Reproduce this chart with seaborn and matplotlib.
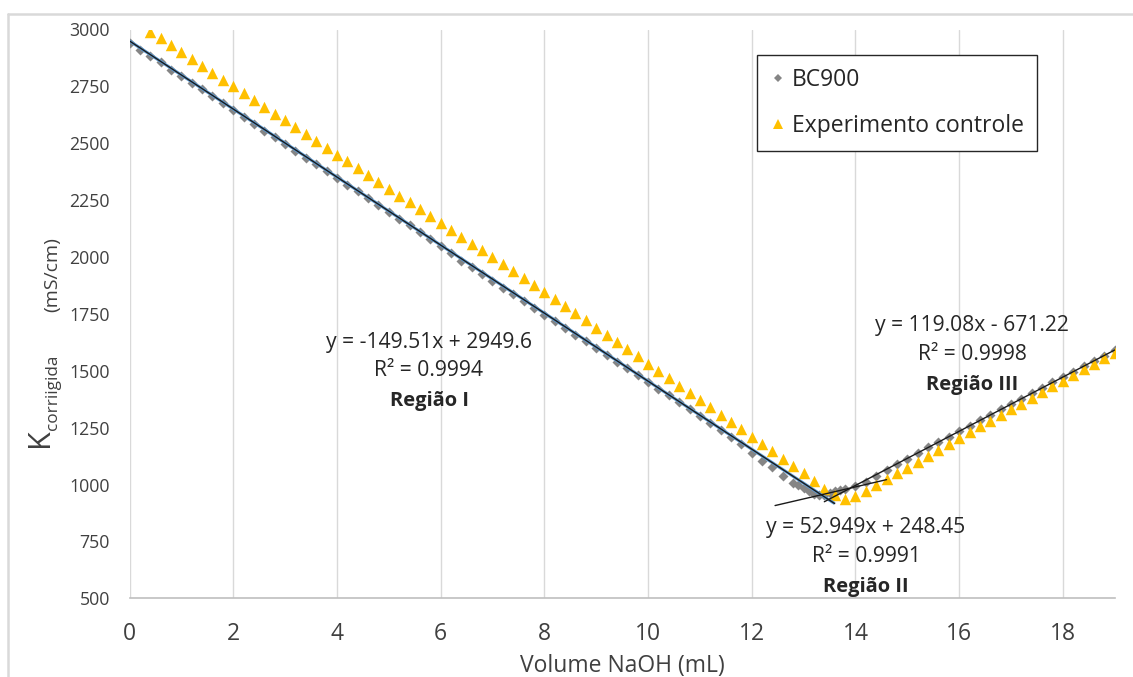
import matplotlib
matplotlib.use("Agg")
import matplotlib.pyplot as plt
from matplotlib.lines import Line2D
import numpy as np
import pandas as pd
import seaborn as sns

# --- data -------------------------------------------------------------------
bc900_volume = [
    0.0, 0.2, 0.4, 0.6, 0.8, 1.0, 1.2, 1.4, 1.6, 1.8,
    2.0, 2.2, 2.4, 2.6, 2.8, 3.0, 3.2, 3.4, 3.6, 3.8,
    4.0, 4.2, 4.4, 4.6, 4.8, 5.0, 5.2, 5.4, 5.6, 5.8,
    6.0, 6.2, 6.4, 6.6, 6.8, 7.0, 7.2, 7.4, 7.6, 7.8,
    8.0, 8.2, 8.4, 8.6, 8.8, 9.0, 9.2, 9.4, 9.6, 9.8,
    10.0, 10.2, 10.4, 10.6, 10.8, 11.0, 11.2, 11.4, 11.6, 11.8,
    12.0, 12.2, 12.4, 12.6, 12.8, 12.9, 13.0, 13.1, 13.2, 13.3,
    13.4, 13.5, 13.6, 13.7, 13.8, 14.0, 14.2, 14.4, 14.6, 14.8,
    15.0, 15.2, 15.4, 15.6, 15.8, 16.0, 16.2, 16.4, 16.6, 16.8,
    17.0, 17.2, 17.4, 17.6, 17.8, 18.0, 18.2, 18.4, 18.6, 18.8, 19.0,
]
bc900_k = [
    2940, 2912, 2884, 2857, 2824, 2794, 2766, 2738, 2706, 2676,
    2646, 2616, 2586, 2556, 2526, 2497, 2467, 2437, 2408, 2377,
    2347, 2318, 2288, 2258, 2228, 2199, 2169, 2140, 2110, 2079,
    2049, 2018, 1984, 1954, 1925, 1895, 1866, 1836, 1806, 1777,
    1746, 1717, 1688, 1659, 1629, 1599, 1570, 1540, 1511, 1481,
    1452, 1422, 1392, 1362, 1332, 1302, 1272, 1241, 1210, 1176,
    1140, 1105, 1075, 1039, 1008, 996, 984, 970, 960, 953,
    956, 962, 970, 976, 982, 994, 1012, 1036, 1064, 1090,
    1114, 1139, 1163, 1187, 1211, 1236, 1259, 1283, 1306, 1330,
    1354, 1377, 1401, 1425, 1449, 1472, 1496, 1519, 1543, 1567, 1590,
]

controle_volume = [
    0.4, 0.6, 0.8, 1.0, 1.2, 1.4, 1.6, 1.8,
    2.0, 2.2, 2.4, 2.6, 2.8, 3.0, 3.2, 3.4, 3.6, 3.8,
    4.0, 4.2, 4.4, 4.6, 4.8, 5.0, 5.2, 5.4, 5.6, 5.8,
    6.0, 6.2, 6.4, 6.6, 6.8, 7.0, 7.2, 7.4, 7.6, 7.8,
    8.0, 8.2, 8.4, 8.6, 8.8, 9.0, 9.2, 9.4, 9.6, 9.8,
    10.0, 10.2, 10.4, 10.6, 10.8, 11.0, 11.2, 11.4, 11.6, 11.8,
    12.0, 12.2, 12.4, 12.6, 12.8, 13.0, 13.2, 13.4, 13.6, 13.8,
    14.0, 14.2, 14.4, 14.6, 14.8, 15.0, 15.2, 15.4, 15.6, 15.8,
    16.0, 16.2, 16.4, 16.6, 16.8, 17.0, 17.2, 17.4, 17.6, 17.8,
    18.0, 18.2, 18.4, 18.6, 18.8, 19.0,
]
controle_k = [
    2990, 2961, 2930, 2901, 2871, 2840, 2811, 2780,
    2751, 2721, 2690, 2661, 2630, 2601, 2570, 2541, 2510, 2481,
    2450, 2421, 2390, 2361, 2330, 2301, 2270, 2241, 2210, 2180,
    2150, 2120, 2090, 2059, 2029, 1999, 1969, 1939, 1909, 1879,
    1848, 1817, 1785, 1753, 1722, 1690, 1658, 1627, 1595, 1563,
    1531, 1499, 1467, 1435, 1403, 1371, 1339, 1307, 1275, 1242,
    1210, 1177, 1146, 1113, 1080, 1049, 1017, 982, 953, 937,
    950, 973, 997, 1026, 1049, 1071, 1098, 1125, 1152, 1179,
    1206, 1231, 1256, 1281, 1306, 1331, 1356, 1381, 1406, 1431,
    1456, 1481, 1506, 1531, 1556, 1580,
]

# linear fits for the three titration regions: (slope, intercept, R², x range)
fit_labels = ["Região I", "Região II", "Região III"]
fit_slopes = [-149.51, 52.949, 119.08]
fit_intercepts = [2949.6, 248.45, -671.22]
fit_r2 = ["0.9994", "0.9991", "0.9998"]
fit_ranges = [(0.0, 13.6), (12.45, 14.6), (13.4, 19.0)]

x_ticks = [0, 2, 4, 6, 8, 10, 12, 14, 16, 18]
y_ticks = [500, 750, 1000, 1250, 1500, 1750, 2000, 2250, 2500, 2750, 3000]

# --- style ------------------------------------------------------------------
sns.set_theme(style="white")
plt.rcParams["font.family"] = ["Open Sans", "DejaVu Sans"]

GRAY = "#858585"
YELLOW = "#FFC000"
TEXT = "#262626"
TICK = "#404040"
GRID = "#D9D9D9"

W, H = 1133, 677
fig = plt.figure(figsize=(W / 100, H / 100), dpi=100)
fig.patch.set_facecolor("white")

def fx(px):
    return px / W

def fy(py):
    return 1 - py / H

ax = fig.add_axes([fx(129.5), fy(598.3), (1114.7 - 129.5) / W, (598.3 - 29.5) / H])

df_bc = pd.DataFrame({"volume": bc900_volume, "k": bc900_k})
df_ct = pd.DataFrame({"volume": controle_volume, "k": controle_k})

sns.scatterplot(data=df_bc, x="volume", y="k", marker="D", color=GRAY, s=26,
                linewidth=0, ax=ax, zorder=3, legend=False)
sns.scatterplot(data=df_ct, x="volume", y="k", marker="^", color=YELLOW, s=68,
                linewidth=0, ax=ax, zorder=4, legend=False)

# trendlines
for i, (m, b, (x0, x1)) in enumerate(zip(fit_slopes, fit_intercepts, fit_ranges)):
    xs = np.array([x0, x1])
    ys = m * xs + b
    if i == 0:
        ax.plot(xs, ys, color="#5B9BD5", lw=2.2, zorder=5, solid_capstyle="butt")
    ax.plot(xs, ys, color="#1a1a1a", lw=1.0, zorder=6)

ax.set_xlim(0, 19)
ax.set_ylim(500, 3000)
ax.set_xticks(x_ticks)
ax.set_yticks(y_ticks)
ax.set_xticklabels([str(v) for v in x_ticks])
ax.set_yticklabels([str(v) for v in y_ticks])
ax.tick_params(axis="x", length=0, pad=17, labelsize=16.5, labelcolor=TICK)
ax.tick_params(axis="y", length=0, pad=14, labelsize=12.8, labelcolor=TICK)

ax.grid(axis="x", color=GRID, lw=1.0, zorder=0)
ax.grid(axis="y", visible=False)
for side in ["top", "right", "left"]:
    ax.spines[side].set_visible(False)
ax.spines["bottom"].set_color("#BFBFBF")
ax.spines["bottom"].set_linewidth(1.2)

ax.set_xlabel("Volume NaOH (mL)", fontsize=16.5, color=TICK)
ax.xaxis.set_label_coords(0.5, -0.098)
ax.set_ylabel("")

# y-axis title built from pieces: K with subscript text
fig.text(fx(48), fy(447), "K", rotation=90, rotation_mode="anchor",
         ha="left", va="baseline", fontsize=22, color=TICK)
fig.text(fx(57), fy(430), "corriigida", rotation=90, rotation_mode="anchor",
         ha="left", va="baseline", fontsize=12.3, color=TICK)
fig.text(fx(57), fy(274.5), "(mS/cm)", rotation=90, rotation_mode="anchor",
         ha="center", va="baseline", fontsize=14, color=TICK)

# equation annotations
ann_centers = [(429, [348, 376.5, 406]), (866, [533, 562, 592]), (972, [331.5, 360, 390])]
for lbl, m, b, r2, (cx, rows) in zip(fit_labels, fit_slopes, fit_intercepts, fit_r2, ann_centers):
    sign = "+" if b >= 0 else "-"
    eq = f"y = {m:g}x {sign} {abs(b):g}"
    fig.text(fx(cx), fy(rows[0]), eq, ha="center", va="baseline", fontsize=15.2, color=TEXT)
    fig.text(fx(cx), fy(rows[1]), f"R² = {r2}", ha="center", va="baseline", fontsize=15.2, color=TEXT)
    fig.text(fx(cx), fy(rows[2]), lbl, ha="center", va="baseline", fontsize=14.5,
             fontweight="bold", color=TEXT)

# legend
handles = [
    Line2D([], [], marker="D", ls="none", color=GRAY, ms=4, mew=0),
    Line2D([], [], marker="^", ls="none", color=YELLOW, ms=7, mew=0),
]
leg = ax.legend(handles, ["BC900", "Experimento controle"], loc="upper left",
                bbox_to_anchor=((757 - 129.5) / 985.2, (598.3 - 55) / 568.8),
                borderaxespad=0, frameon=True, fancybox=False, fontsize=16.5,
                borderpad=0.57, handlelength=0.66, handletextpad=0.29,
                labelspacing=0.95)
leg.get_frame().set_edgecolor("#262626")
leg.get_frame().set_linewidth(1.0)
leg.get_frame().set_facecolor("white")
leg.get_frame().set_alpha(1.0)
for t in leg.get_texts():
    t.set_color(TEXT)
leg.set_zorder(10)

# outer chart border (top and left edges)
fig.add_artist(Line2D([fx(8), fx(8)], [fy(14), 0], color=GRID, lw=1.8))
fig.add_artist(Line2D([fx(8), 1], [fy(14), fy(14)], color=GRID, lw=1.8))

fig.savefig("out.png", dpi=100, facecolor="white")
